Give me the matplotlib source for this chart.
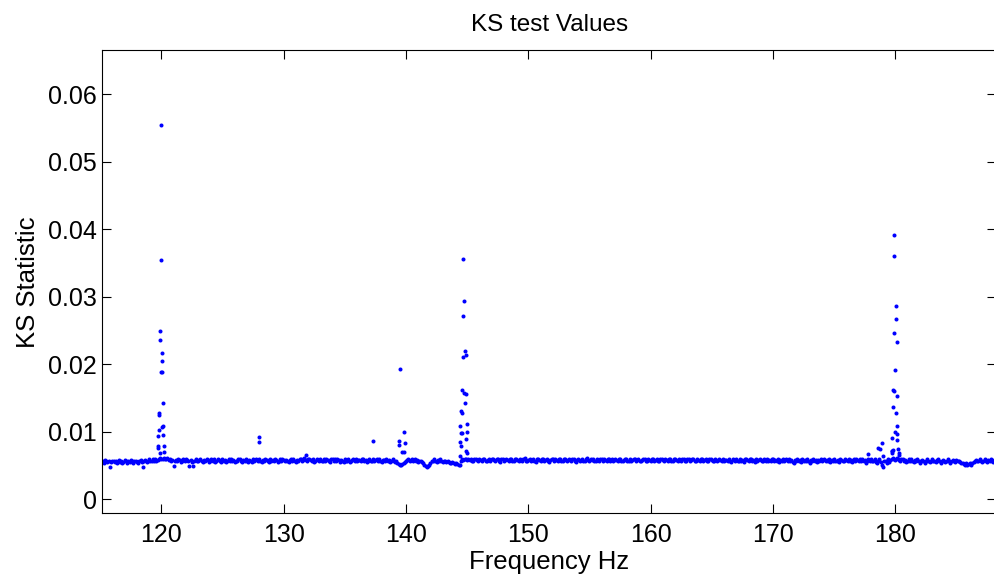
import numpy as np
import matplotlib
matplotlib.use("Agg")
import matplotlib.pyplot as plt

plt.rcParams['font.family'] = ['Liberation Sans', 'DejaVu Sans']

# KS statistic along the frequency grid (0.1 Hz steps from 115.2 Hz), units of 1e-4
f_start = 115.2
f_step = 0.1
base_e4 = [
    56, 54, 58, 56, 55, 57, 48, 55, 57, 56,
    55, 57, 54, 58, 55, 56, 54, 55, 58, 56,
    54, 57, 55, 58, 56, 54, 57, 56, 55, 54,
    56, 58, 55, 48, 56, 58, 55, 56, 59, 57,
    57, 59, 56, 60, 57, 58, 60, 61, 60, 60,
    61, 60, 59, 61, 58, 59, 56, 58, 49, 56,
    58, 56, 60, 58, 55, 56, 59, 57, 60, 58,
    57, 49, 58, 55, 49, 57, 59, 56, 57, 58,
    59, 56, 55, 58, 57, 60, 58, 55, 57, 59,
    57, 59, 55, 57, 60, 58, 56, 55, 59, 57,
    58, 55, 57, 59, 56, 60, 57, 58, 55, 57,
    56, 59, 60, 57, 55, 58, 56, 59, 57, 55,
    58, 57, 55, 59, 56, 60, 58, 56, 59, 57,
    55, 58, 57, 60, 58, 56, 55, 59, 57, 58,
    57, 60, 58, 55, 57, 59, 56, 60, 58, 56,
    58, 56, 55, 58, 60, 57, 59, 56, 55, 58,
    57, 59, 60, 56, 58, 61, 58, 56, 59, 60,
    58, 56, 59, 55, 57, 60, 58, 56, 59, 57,
    56, 59, 57, 60, 58, 56, 55, 59, 60, 57,
    59, 56, 60, 58, 55, 58, 57, 55, 59, 57,
    57, 59, 55, 57, 58, 60, 56, 59, 57, 58,
    58, 56, 59, 60, 57, 58, 55, 57, 59, 56,
    57, 59, 56, 58, 60, 56, 59, 57, 55, 58,
    58, 56, 59, 57, 58, 55, 57, 59, 56, 55,
    56, 54, 52, 51, 50, 52, 53, 55, 57, 58,
    59, 56, 58, 60, 57, 59, 56, 58, 55, 57,
    57, 55, 54, 51, 49, 48, 49, 51, 54, 56,
    57, 59, 56, 55, 58, 57, 59, 56, 55, 57,
    57, 55, 56, 55, 54, 53, 55, 53, 52, 53,
    52, 51, 50, 57, 59, 58, 60, 59, 58, 60,
    58, 60, 57, 56, 59, 60, 58, 56, 60, 58,
    56, 59, 60, 57, 56, 58, 60, 57, 59, 60,
    58, 56, 59, 60, 57, 55, 59, 60, 57, 58,
    60, 58, 56, 59, 60, 57, 56, 59, 60, 58,
    57, 60, 58, 56, 59, 61, 57, 56, 58, 60,
    56, 58, 60, 57, 55, 59, 60, 58, 56, 59,
    59, 56, 58, 60, 57, 55, 58, 60, 59, 56,
    60, 58, 56, 59, 60, 57, 56, 59, 60, 58,
    57, 60, 58, 56, 59, 60, 57, 55, 58, 60,
    56, 58, 60, 57, 56, 59, 61, 58, 56, 59,
    58, 60, 57, 56, 60, 58, 56, 59, 60, 57,
    60, 58, 56, 59, 60, 57, 60, 56, 58, 60,
    58, 56, 59, 60, 57, 56, 58, 60, 59, 56,
    57, 60, 56, 58, 60, 59, 56, 58, 60, 57,
    56, 58, 60, 59, 56, 57, 60, 58, 56, 60,
    59, 56, 58, 60, 57, 56, 59, 60, 58, 56,
    60, 58, 56, 59, 60, 57, 56, 59, 60, 58,
    57, 60, 58, 56, 59, 60, 57, 56, 59, 60,
    56, 58, 60, 59, 56, 57, 60, 58, 56, 59,
    59, 56, 58, 60, 57, 56, 59, 60, 58, 56,
    56, 59, 57, 58, 60, 58, 56, 59, 57, 58,
    58, 56, 59, 57, 55, 60, 58, 56, 59, 57,
    56, 59, 57, 58, 55, 59, 60, 58, 56, 59,
    59, 56, 58, 55, 59, 57, 58, 60, 58, 56,
    56, 59, 57, 60, 56, 58, 57, 59, 60, 57,
    58, 56, 59, 55, 58, 57, 59, 56, 58, 60,
    56, 59, 57, 58, 55, 54, 58, 56, 59, 57,
    58, 55, 59, 56, 58, 57, 59, 56, 54, 58,
    56, 59, 57, 58, 55, 58, 57, 60, 56, 58,
    59, 56, 58, 57, 59, 55, 58, 56, 59, 57,
    56, 58, 55, 59, 58, 56, 57, 59, 58, 56,
    59, 56, 58, 55, 59, 57, 60, 58, 56, 59,
    56, 59, 57, 58, 54, 57, 60, 56, 59, 57,
    57, 59, 55, 53, 57, 60, 55, 51, 48, 56,
    57, 54, 59, 55, 58, 60, 61, 59, 58, 61,
    60, 58, 56, 59, 60, 56, 58, 55, 57, 59,
    56, 59, 57, 55, 58, 57, 59, 56, 54, 57,
    58, 56, 54, 57, 59, 56, 55, 57, 59, 56,
    57, 55, 58, 59, 56, 54, 57, 58, 56, 55,
    57, 59, 56, 54, 57, 58, 56, 55, 58, 57,
    57, 55, 54, 53, 52, 51, 53, 50, 52, 54,
    51, 53, 55, 56, 58, 56, 57, 59, 57, 55,
    57, 59, 56, 55, 58, 57, 59, 56, 55, 58,
]

# points that stand above the baseline (harmonic lines)
peak_freq = [
    119.98, 120.00, 119.92, 119.92, 120.06, 120.08, 119.95, 120.08, 120.14,
    119.81, 119.82, 120.11, 120.03, 119.79, 120.16, 119.75, 119.73, 119.74,
    120.20, 120.25, 119.87,
    127.99, 127.99, 131.83, 137.30,
    139.51, 139.87, 139.41, 139.46, 139.92, 139.68, 139.84,
    144.69, 144.72, 144.66, 144.83, 144.88, 144.64, 144.58, 144.77, 144.88,
    144.80, 144.52, 144.58, 145.01, 144.42, 144.50, 144.61, 144.99, 144.93,
    144.44, 144.48, 144.91, 145.00, 144.42,
    177.77, 178.59, 178.78, 178.91, 178.97, 179.70, 179.78,
    179.92, 179.90, 180.08, 180.08, 179.87, 180.11, 179.98, 179.81, 179.87,
    180.14, 179.81, 180.03, 180.17, 180.00, 179.76, 180.11, 180.17, 180.22,
    179.73, 179.73, 180.28, 180.30,
]
peak_ks = [
    0.0554, 0.0354, 0.0249, 0.0235, 0.0217, 0.0204, 0.0188, 0.0188, 0.0142,
    0.0128, 0.0124, 0.0108, 0.0107, 0.0102, 0.0095, 0.0093, 0.0078, 0.0075,
    0.0079, 0.0070, 0.0068,
    0.0092, 0.0084, 0.0066, 0.0086,
    0.0193, 0.0099, 0.0086, 0.0080, 0.0083, 0.0070, 0.0070,
    0.0355, 0.0294, 0.0271, 0.0220, 0.0213, 0.0211, 0.0161, 0.0157, 0.0156,
    0.0142, 0.0130, 0.0128, 0.0112, 0.0109, 0.0098, 0.0098, 0.0099, 0.0089,
    0.0084, 0.0078, 0.0072, 0.0068, 0.0064,
    0.0067, 0.0076, 0.0074, 0.0083, 0.0064, 0.0071, 0.0073,
    0.0391, 0.0360, 0.0286, 0.0267, 0.0246, 0.0233, 0.0191, 0.0162, 0.0160,
    0.0153, 0.0137, 0.0127, 0.0108, 0.0099, 0.0091, 0.0097, 0.0087, 0.0074,
    0.0069, 0.0071, 0.0068, 0.0065,
]

freq = f_start + f_step * np.arange(len(base_e4))
ks = np.array(base_e4) * 1e-4

fig = plt.figure(figsize=(9.94, 5.79), dpi=100)
ax = fig.add_axes([0.1031, 0.1135, 0.8989, 0.7997])

ax.plot(freq, ks, 'o', color='b', ms=2.9, mew=0)
ax.plot(peak_freq, peak_ks, 'o', color='b', ms=2.9, mew=0)

ax.set_xlim(115.19, 188.23)
ax.set_ylim(-0.0021, 0.0665)
ax.set_xticks([120, 130, 140, 150, 160, 170, 180])
ax.set_yticks([0, 0.01, 0.02, 0.03, 0.04, 0.05, 0.06])
ax.set_yticklabels(['0', '0.01', '0.02', '0.03', '0.04', '0.05', '0.06'])
ax.tick_params(direction='in', length=6.3, width=0.8, top=True, right=True,
               labelsize=18, pad=7)
ax.tick_params(axis='y', pad=4)
for s in ax.spines.values():
    s.set_linewidth(0.8)

ax.set_title('KS test Values', fontsize=17.5, pad=14)
ax.set_xlabel('Frequency Hz', fontsize=18.5, labelpad=2)
ax.set_ylabel('KS Statistic', fontsize=18.5, labelpad=6)

fig.savefig('out.png', dpi=100)
